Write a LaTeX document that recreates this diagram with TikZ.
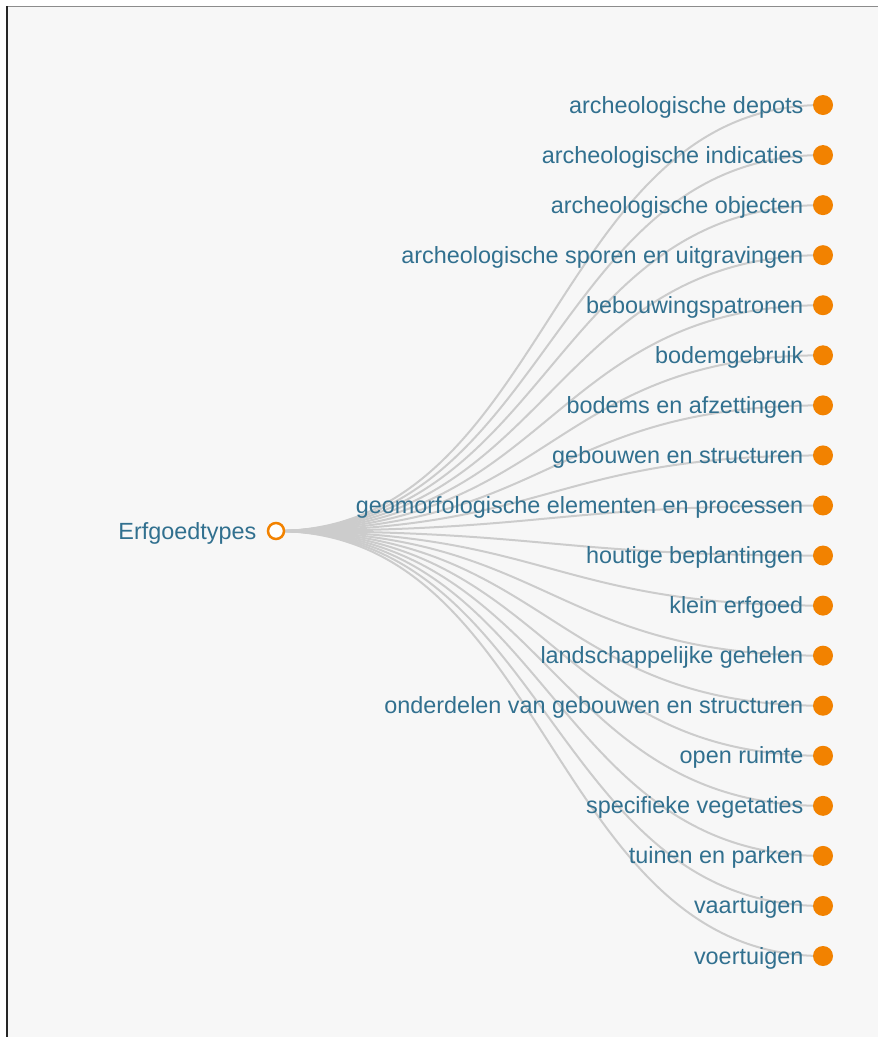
\documentclass[tikz,border=0pt]{standalone}
\usepackage{fontspec}
\setmainfont{Liberation Sans}
\definecolor{bg}{HTML}{F7F7F7}
\definecolor{linkc}{HTML}{CCCCCC}
\definecolor{nodeor}{HTML}{F28200}
\definecolor{txt}{HTML}{31708F}
\begin{document}
\begin{tikzpicture}[x=1pt,y=-1pt,
  link/.style={draw=linkc, line width=2pt},
  leafdot/.style={circle, fill=nodeor, minimum size=20pt, inner sep=0pt},
  rootdot/.style={circle, draw=nodeor, fill=white, line width=2.5pt, minimum size=16pt, inner sep=0pt},
  lbl/.style={text=txt, font=\fontsize{23.4}{23.4}\selectfont, inner sep=0pt, anchor=base east}]
\useasboundingbox (0,0) rectangle (878,1037);
\fill[white] (0,0) rectangle (878,1037);
\fill[bg] (7,7) rectangle (878,1037);
\draw[draw=gray!90, line width=1.5pt] (7,6.5) -- (878,6.5);
\draw[draw=black!85, line width=1.5pt] (7,6) -- (7,1037);
\coordinate (r) at (276,531);
\foreach \i/\t in {0/archeologische depots,1/archeologische indicaties,2/archeologische objecten,3/archeologische sporen en uitgravingen,4/bebouwingspatronen,5/bodemgebruik,6/bodems en afzettingen,7/gebouwen en structuren,8/geomorfologische elementen en processen,9/houtige beplantingen,10/klein erfgoed,11/landschappelijke gehelen,12/onderdelen van gebouwen en structuren,13/open ruimte,14/specifieke vegetaties,15/tuinen en parken,16/vaartuigen,17/voertuigen}{
  \pgfmathsetmacro{\yy}{105+50.06*\i}
  \coordinate (p\i) at (823,\yy);
  \draw[link] (r) .. controls (549.5,531) and (549.5,\yy) .. (p\i);
}
\foreach \i/\t in {0/archeologische depots,1/archeologische indicaties,2/archeologische objecten,3/archeologische sporen en uitgravingen,4/bebouwingspatronen,5/bodemgebruik,6/bodems en afzettingen,7/gebouwen en structuren,8/geomorfologische elementen en processen,9/houtige beplantingen,10/klein erfgoed,11/landschappelijke gehelen,12/onderdelen van gebouwen en structuren,13/open ruimte,14/specifieke vegetaties,15/tuinen en parken,16/vaartuigen,17/voertuigen}{
  \node[lbl] (t\i) at ([shift={(-19.5pt,-8pt)}]p\i) {\t};
  \node[leafdot] (n\i) at (p\i) {};
}
\node[rootdot] (root) at (r) {};
\node[lbl] (troot) at ([shift={(-19.5pt,-8pt)}]r) {Erfgoedtypes};
\end{tikzpicture}
\end{document}
